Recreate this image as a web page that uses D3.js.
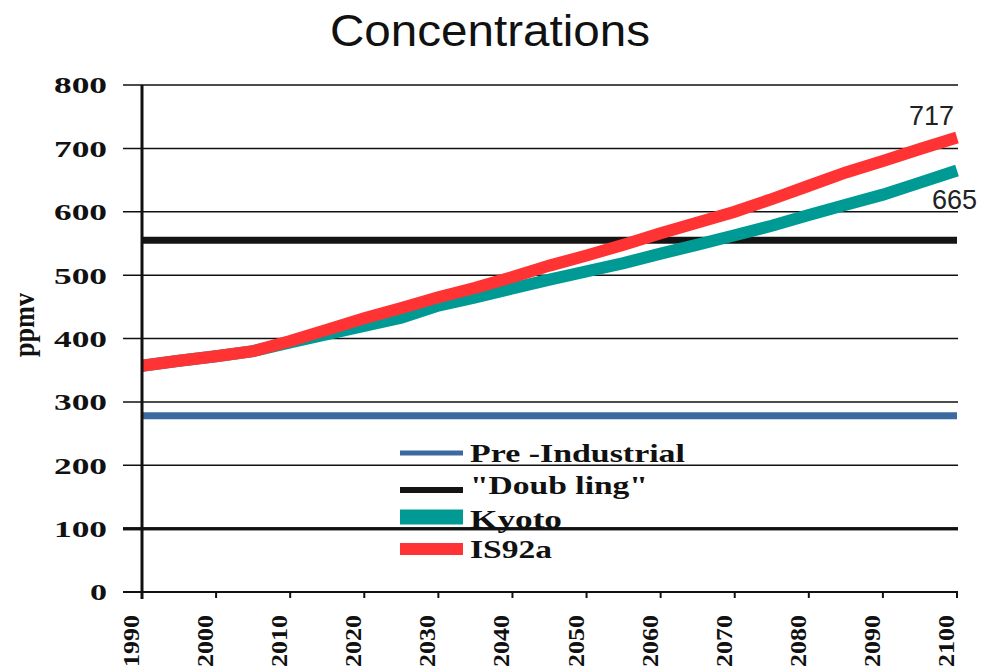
<!DOCTYPE html>
<html>
<head>
<meta charset="utf-8">
<script src="https://cdn.jsdelivr.net/npm/d3@7"></script>
<style>
  html, body { margin: 0; padding: 0; background: #fff; }
  svg { display: block; }
</style>
</head>
<body>
<svg id="chart" width="981" height="668"></svg>
<script>
// ---- data ----
const years = [1990,1995,2000,2005,2010,2015,2020,2025,2030,2035,2040,2045,2050,2055,2060,2065,2070,2075,2080,2085,2090,2095,2100];
const is92a = [357,365,372,380,396,414,432,448,465,480,497,515,531,548,566,583,600,620,641,662,680,699,717];
const kyoto = [357,365,372,380,394,407,420,433,452,465,479,493,506,519,534,548,563,578,595,611,627,646,665];
const preIndustrial = 278;
const doubling = 555;
const yTicks = [0,100,200,300,400,500,600,700,800];
const xTicks = [1990,2000,2010,2020,2030,2040,2050,2060,2070,2080,2090,2100];
const legendLabels = ["Pre -Industrial", "\"Doub ling\"", "Kyoto", "IS92a"];
const endLabels = ["717", "665"];

const colors = { pre: "#3a6aa0", dbl: "#141414", kyoto: "#009a94", is92a: "#ff3333" };

const svg = d3.select("#chart");
const x = d3.scaleLinear().domain([1990, 2100]).range([142, 957]);
const y = d3.scaleLinear().domain([0, 800]).range([592, 85]);
const serif = "'Liberation Serif', 'Times New Roman', serif";
const sans = "'Liberation Sans', Arial, sans-serif";

// title
svg.append("text").attr("x", 490).attr("y", 46).attr("text-anchor", "middle")
  .attr("font-family", sans).attr("font-size", 45).attr("fill", "#111")
  .attr("textLength", 320).attr("lengthAdjust", "spacingAndGlyphs")
  .text("Concentrations");

// gridlines
svg.append("g").selectAll("line").data(yTicks).join("line")
  .attr("x1", 123).attr("x2", 958)
  .attr("y1", d => y(d)).attr("y2", d => y(d))
  .attr("stroke", "#111")
  .attr("stroke-width", d => d === 100 ? 3 : (d === 0 ? 2 : 1.5));

// y tick labels
svg.append("g").selectAll("text").data(yTicks).join("text")
  .attr("x", 107).attr("y", d => y(d)).attr("dy", "0.35em")
  .attr("text-anchor", "end")
  .attr("font-family", serif).attr("font-weight", "bold").attr("font-size", 24)
  .attr("fill", "#111")
  .attr("textLength", d => String(d).length * 18 - 1)
  .attr("lengthAdjust", "spacingAndGlyphs")
  .text(d => d);

// x ticks
svg.append("g").selectAll("line").data(xTicks).join("line")
  .attr("x1", d => x(d)).attr("x2", d => x(d))
  .attr("y1", 592).attr("y2", 598)
  .attr("stroke", "#111").attr("stroke-width", 2);

// x tick labels
svg.append("g").selectAll("text").data(xTicks).join("text")
  .attr("transform", d => `translate(${x(d) - 3},615) rotate(-90)`)
  .attr("text-anchor", "end")
  .attr("font-family", serif).attr("font-weight", "bold").attr("font-size", 24)
  .attr("fill", "#111")
  .attr("textLength", 52).attr("lengthAdjust", "spacingAndGlyphs")
  .text(d => d);

// y axis label
svg.append("text")
  .attr("transform", "translate(34,325) rotate(-90)")
  .attr("text-anchor", "middle")
  .attr("font-family", serif).attr("font-weight", "bold").attr("font-size", 29)
  .attr("fill", "#111")
  .attr("textLength", 64).attr("lengthAdjust", "spacingAndGlyphs")
  .text("ppmv");

// horizontal reference series
svg.append("line").attr("x1", x(1990)).attr("x2", x(2100))
  .attr("y1", y(preIndustrial)).attr("y2", y(preIndustrial))
  .attr("stroke", colors.pre).attr("stroke-width", 7);
svg.append("line").attr("x1", x(1990)).attr("x2", x(2100))
  .attr("y1", y(doubling)).attr("y2", y(doubling))
  .attr("stroke", colors.dbl).attr("stroke-width", 7);

// scenario lines
const line = d3.line().x((d, i) => x(years[i])).y(d => y(d));
svg.append("path").datum(kyoto).attr("d", line)
  .attr("fill", "none").attr("stroke", colors.kyoto).attr("stroke-width", 12);
svg.append("path").datum(is92a).attr("d", line)
  .attr("fill", "none").attr("stroke", colors.is92a).attr("stroke-width", 12);

// y axis vertical line
svg.append("line").attr("x1", 142).attr("x2", 142).attr("y1", 85).attr("y2", 599)
  .attr("stroke", "#111").attr("stroke-width", 3);

// legend
const legendRows = [
  { label: legendLabels[0], color: colors.pre, w: 5, ly: 453, ty: 462, tl: 215 },
  { label: legendLabels[1], color: colors.dbl, w: 6, ly: 490, ty: 494, tl: 178 },
  { label: legendLabels[2], color: colors.kyoto, w: 15, ly: 517, ty: 528, tl: 92 },
  { label: legendLabels[3], color: colors.is92a, w: 12, ly: 549, ty: 558, tl: 82 }
];
const lg = svg.append("g");
legendRows.forEach(r => {
  lg.append("line").attr("x1", 400).attr("x2", 463).attr("y1", r.ly).attr("y2", r.ly)
    .attr("stroke", r.color).attr("stroke-width", r.w);
  lg.append("text").attr("x", 470).attr("y", r.ty)
    .attr("font-family", serif).attr("font-weight", "bold").attr("font-size", 25)
    .attr("fill", "#111")
    .attr("textLength", r.tl).attr("lengthAdjust", "spacingAndGlyphs")
    .text(r.label);
});
// 100 gridline drawn over the legend, as in the original
svg.append("line").attr("x1", 123).attr("x2", 958).attr("y1", y(100)).attr("y2", y(100))
  .attr("stroke", "#111").attr("stroke-width", 3);

// end labels
svg.append("text").attr("x", 954).attr("y", 125).attr("text-anchor", "end")
  .attr("font-family", sans).attr("font-size", 27).attr("fill", "#222")
  .text(endLabels[0]);
svg.append("text").attr("x", 932).attr("y", 209)
  .attr("font-family", sans).attr("font-size", 27).attr("fill", "#222")
  .text(endLabels[1]);
</script>
</body>
</html>
